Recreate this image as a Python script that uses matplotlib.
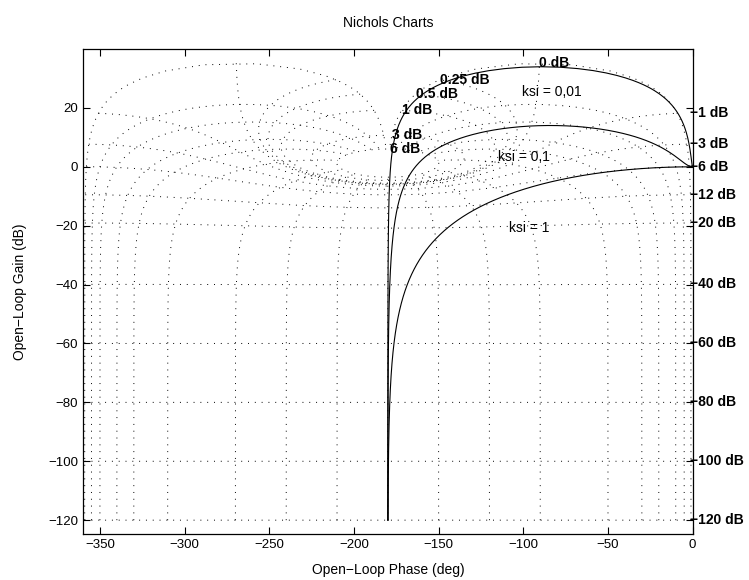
import numpy as np
import matplotlib
matplotlib.use("Agg")
import matplotlib.pyplot as plt

# open-loop system 1/(s^2 + 2*ksi*s + 1) for three damping ratios
ksi_values = [0.01, 0.1, 1]
ksi_labels = ["ksi = 0,01", "ksi = 0,1", "ksi = 1"]
ksi_label_pos = [(-100.5, 25.4), (-115, 3.4), (-108.5, -20.7)]

# Nichols grid: closed-loop gains (dB) and closed-loop phases (deg)
cl_gains_db = [6, 3, 1, 0.5, 0.25, 0, -1, -3, -6, -12, -20, -40, -60, -80, -100, -120]
cl_phases = [-1, -5, -10, -20, -30, -50, -90, -120, -150, -180,
             -210, -240, -270, -310, -330, -340, -350, -355, -359]

plt.rcParams['font.family'] = ['Liberation Sans', 'DejaVu Sans']

fig = plt.figure(figsize=(7.49, 5.80), dpi=100)
ax = fig.add_axes([0.1108, 0.0793, 0.814, 0.8362])

grid_style = dict(color='k', lw=0.7, ls=(0, (1, 6)), zorder=1)


def open_loop(T):
    # open-loop point for closed-loop T: G = T / (1 - T)
    return T / (1 - T)


# constant closed-loop gain lines
theta = np.linspace(-359, -1, 1500)
for m_db in cl_gains_db:
    m = 10 ** (m_db / 20)
    T = m * np.exp(1j * np.deg2rad(theta))
    G = open_loop(T)
    phase = theta - np.angle(1 - T, deg=True)
    gain = 20 * np.log10(np.abs(G))
    ax.plot(phase, gain, **grid_style)
    # label at the theta = -1 end of the line
    lx, ly = phase[-1], gain[-1]
    if m_db < 0:
        lx = -1.5
    ax.text(lx, ly, "%g dB" % m_db if m_db >= 0 else "\u2212%g dB" % -m_db,
            fontsize=10, fontweight='bold', ha='left', va='center',
            clip_on=False, zorder=5)

# constant closed-loop phase lines
r_db = np.linspace(-120, 6, 1500)
for ph in cl_phases:
    r = 10 ** (r_db / 20)
    T = r * np.exp(1j * np.deg2rad(ph))
    G = open_loop(T)
    phase = ph - np.angle(1 - T, deg=True)
    gain = 20 * np.log10(np.abs(G))
    ax.plot(phase, gain, **grid_style)

# open-loop responses
w = np.logspace(-2.2, 3, 6000)
for ksi in ksi_values:
    G = 1 / ((1j * w) ** 2 + 2 * ksi * (1j * w) + 1)
    ph = np.rad2deg(np.unwrap(np.angle(G)))
    ax.plot(ph, 20 * np.log10(np.abs(G)), color='k', lw=0.8, zorder=3)

for txt, (x, y) in zip(ksi_labels, ksi_label_pos):
    ax.text(x, y, txt, fontsize=10, ha='left', va='center', zorder=5)

ax.set_xlim(-360, 0)
ax.set_ylim(-124.7, 40)
ax.set_xticks(np.arange(-350, 1, 50))
ax.set_yticks(np.arange(-120, 21, 20))
ax.tick_params(direction='in', top=True, right=True, length=5, width=0.8,
               labelsize=9.5)
for s in ax.spines.values():
    s.set_linewidth(0.9)

ax.set_title("Nichols Charts", fontsize=10, pad=16)
ax.set_xlabel("Open\u2212Loop Phase (deg)", fontsize=10, labelpad=9)
ax.set_ylabel("Open\u2212Loop Gain (dB)", fontsize=10, labelpad=15)

fig.savefig("out.png", dpi=100)
